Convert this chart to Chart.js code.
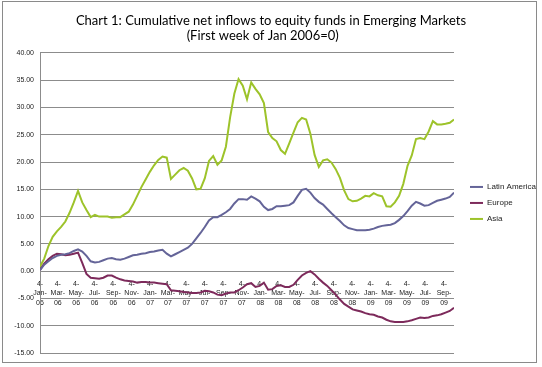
<!DOCTYPE html>
<html>
<head>
<meta charset="utf-8">
<title>Cumulative net inflows to equity funds in Emerging Markets</title>
<script src="https://cdn.jsdelivr.net/npm/chart.js@4/dist/chart.umd.min.js"></script>
<style>
  html, body { margin: 0; padding: 0; background: #fff; }
  #wrap { position: relative; width: 542px; height: 367px; }
  #frame { position: absolute; left: 2px; top: 1px; width: 533px; height: 360px; border: 1px solid #8a8a8a; pointer-events: none; }
</style>
</head>
<body>
<div id="wrap">
  <canvas id="chart" width="542" height="367"></canvas>
  <div id="frame"></div>
</div>
<script>
// readings every two weeks, starting first week of Jan 2006
var startDate = Date.UTC(2006, 0, 4);
var stepDays = 14;

var latinAmerica = [
  0.2, 1.2, 1.8, 2.4, 2.8, 3.0, 3.1, 3.3, 3.7, 4.0,
  3.6, 2.8, 1.8, 1.6, 1.7, 2.0, 2.3, 2.4, 2.2, 2.1,
  2.3, 2.6, 2.9, 3.0, 3.2, 3.3, 3.5, 3.6, 3.8, 3.9,
  3.2, 2.7, 3.1, 3.5, 3.9, 4.3, 5.0, 6.0, 7.0, 8.1,
  9.3, 9.9, 9.9, 10.3, 10.8, 11.4, 12.4, 13.2, 13.2, 13.1,
  13.7, 13.3, 12.8, 11.8, 11.2, 11.4, 11.9, 11.9, 12.0, 12.1,
  12.6, 13.8, 14.9, 15.1, 14.4, 13.4, 12.7, 12.2, 11.4, 10.6,
  9.9, 9.2, 8.4, 7.9, 7.7, 7.5, 7.5, 7.5, 7.6, 7.8,
  8.1, 8.3, 8.4, 8.5, 8.8, 9.4, 10.1, 11.0, 12.0, 12.7,
  12.4, 12.0, 12.1, 12.5, 12.9, 13.1, 13.3, 13.6, 14.4
];

var europe = [
  0.2, 1.4, 2.2, 2.8, 3.2, 3.1, 2.9, 3.0, 3.2, 3.4,
  1.5, -0.5, -1.2, -1.3, -1.4, -1.2, -0.8, -0.8, -1.2, -1.5,
  -1.7, -1.8, -1.9, -2.1, -2.0, -2.0, -2.1, -2.1, -2.2, -2.3,
  -2.4, -3.5, -3.6, -3.7, -3.8, -3.9, -4.0, -4.0, -3.9, -3.6,
  -3.7, -3.9, -4.3, -4.4, -4.1, -3.9, -3.9, -3.5, -3.0, -2.4,
  -2.2, -2.9, -2.7, -2.1, -3.4, -3.3, -2.7, -2.6, -2.9, -2.9,
  -2.5, -1.6, -0.8, -0.3, 0.0, -0.6, -1.4, -2.1, -2.7, -3.5,
  -4.3, -5.2, -6.0, -6.5, -7.0, -7.2, -7.4, -7.7, -7.9, -8.0,
  -8.3, -8.5, -8.9, -9.2, -9.3, -9.3, -9.3, -9.2, -9.0, -8.75,
  -8.5, -8.6, -8.5, -8.2, -8.1, -7.9, -7.6, -7.3, -6.7
];

var asia = [
  0.8, 2.3, 4.6, 6.3, 7.3, 8.1, 9.1, 10.7, 12.6, 14.7,
  12.6, 11.2, 9.9, 10.3, 10.0, 10.0, 10.0, 9.8, 9.9, 9.9,
  10.4, 10.9, 12.2, 13.8, 15.4, 16.8, 18.2, 19.4, 20.4, 21.0,
  20.8, 16.9, 17.7, 18.5, 18.9, 18.4, 17.0, 15.0, 15.1, 17.0,
  20.2, 21.1, 19.5, 20.3, 22.8, 28.2, 32.5, 35.2, 34.0, 31.5,
  34.6, 33.4, 32.4, 30.8, 25.5, 24.4, 23.8, 22.2, 21.5, 23.4,
  25.4, 27.3, 28.1, 27.8, 25.2, 21.3, 19.1, 20.3, 20.5, 19.9,
  18.7, 17.1, 14.8, 13.2, 12.8, 12.9, 13.3, 13.8, 13.7, 14.3,
  13.9, 13.7, 11.9, 11.8, 12.6, 13.8, 16.0, 19.3, 21.2, 24.2,
  24.4, 24.2, 25.6, 27.5, 26.9, 26.9, 27.0, 27.2, 27.8
];

// date axis labels, every two months
var tickLabels = [
  '4-Jan-06', '4-Mar-06', '4-May-06', '4-Jul-06', '4-Sep-06', '4-Nov-06',
  '4-Jan-07', '4-Mar-07', '4-May-07', '4-Jul-07', '4-Sep-07', '4-Nov-07',
  '4-Jan-08', '4-Mar-08', '4-May-08', '4-Jul-08', '4-Sep-08', '4-Nov-08',
  '4-Jan-09', '4-Mar-09', '4-May-09', '4-Jul-09', '4-Sep-09'
];

var monthNames = ['Jan', 'Feb', 'Mar', 'Apr', 'May', 'Jun', 'Jul', 'Aug', 'Sep', 'Oct', 'Nov', 'Dec'];

function labelToDay(label) {
  var parts = label.split('-');
  var t = Date.UTC(2000 + parseInt(parts[2], 10), monthNames.indexOf(parts[1]), parseInt(parts[0], 10));
  return Math.round((t - startDate) / 86400000);
}

var tickDays = tickLabels.map(labelToDay);

function toPoints(values) {
  return values.map(function(v, i) {
    return { x: i * stepDays, y: v };
  });
}

var lastDay = (asia.length - 1) * stepDays;
var tickFont = { family: "'Liberation Sans', Arial, sans-serif", size: 7 };
var gridColor = '#8c8c8c';

var datasets = [
  { label: 'Latin America', data: toPoints(latinAmerica), borderColor: '#646498', backgroundColor: '#646498' },
  { label: 'Europe', data: toPoints(europe), borderColor: '#7d2a5b', backgroundColor: '#7d2a5b' },
  { label: 'Asia', data: toPoints(asia), borderColor: '#9dc32a', backgroundColor: '#9dc32a' }
];
datasets.forEach(function(ds) {
  ds.borderWidth = 2;
  ds.pointRadius = 0;
  ds.tension = 0;
});

var subtitleText = '(First week of Jan 2006=0)' + '     ';

var chart = new Chart(document.getElementById('chart').getContext('2d'), {
  type: 'line',
  data: { datasets: datasets },
  options: {
    responsive: false,
    animation: false,
    devicePixelRatio: 1,
    layout: { padding: { left: 0, right: 0, top: 0, bottom: 14 } },
    plugins: {
      title: {
        display: true,
        text: ['Chart 1: Cumulative net inflows to equity funds in Emerging Markets', subtitleText],
        color: '#000',
        font: { family: 'Lato, sans-serif', size: 13, weight: 'normal', lineHeight: 1.15 },
        padding: { top: 13, bottom: 10 }
      },
      legend: {
        position: 'right',
        fullSize: false,
        maxWidth: 80,
        labels: {
          usePointStyle: true,
          pointStyle: 'line',
          pointStyleWidth: 13,
          boxWidth: 13,
          padding: 8,
          color: '#222',
          font: { family: "'Liberation Sans', Arial, sans-serif", size: 8 }
        }
      },
      tooltip: { enabled: false }
    },
    scales: {
      x: {
        type: 'linear',
        min: 0,
        max: lastDay,
        position: { y: 0 },
        grid: { display: false, drawTicks: false },
        border: { display: false },
        afterBuildTicks: function(axis) {
          axis.ticks = tickDays.map(function(d) { return { value: d }; });
        },
        ticks: {
          autoSkip: false,
          maxRotation: 0,
          minRotation: 0,
          padding: 8,
          color: '#222',
          font: { family: tickFont.family, size: 7, lineHeight: 1.35 },
          callback: function(value, index) {
            var p = tickLabels[index].split('-');
            return [p[0] + '-', p[1] + '-', p[2]];
          }
        }
      },
      y: {
        min: -15,
        max: 40,
        grid: { color: gridColor, lineWidth: 1, drawTicks: false },
        border: { display: true, color: gridColor, width: 1 },
        afterFit: function(scale) { scale.width = 40; },
        ticks: {
          stepSize: 5,
          padding: 6,
          color: '#222',
          font: tickFont,
          callback: function(value) { return value.toFixed(2); }
        }
      },
      gap: {
        type: 'linear',
        position: 'right',
        display: true,
        grid: { display: false, drawTicks: false },
        border: { display: false },
        ticks: { display: false },
        afterFit: function(scale) { scale.width = 8; }
      }
    }
  }
});
</script>
</body>
</html>
